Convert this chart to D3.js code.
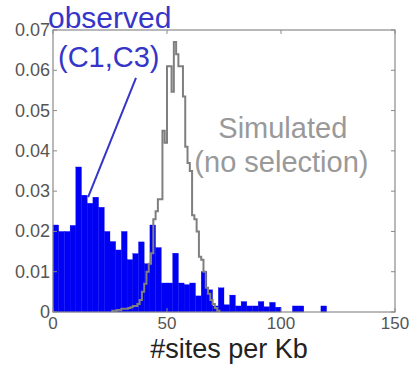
<!DOCTYPE html>
<html lang="en">
<head>
<meta charset="utf-8">
<script src="https://d3js.org/d3.v7.min.js"></script>
<style>
  body { margin: 0; background: #fff; }
  text { font-family: "Liberation Sans", Arial, sans-serif; }
</style>
</head>
<body>
<script>
// observed histogram (C1,C3), bins 2.5 sites/Kb wide starting at 0
var obsStart = 0, obsWidth = 2.5;
var observed = [0.0216, 0.020, 0.020, 0.0215, 0.036, 0.029, 0.027, 0.0285, 0.026, 0.020,
                0.0175, 0.0154, 0.020, 0.013, 0.0145, 0.0174, 0.012, 0.0216, 0.016, 0.0072,
                0.0072, 0.0146, 0.0072, 0.0068, 0.0072, 0.004, 0.010, 0.0055, 0.0015, 0.006,
                0.0018, 0.0042, 0.0015, 0.0026, 0.0015, 0.0015, 0.0026, 0.0013, 0.0024, 0.0012,
                0, 0, 0.0015, 0.0015, 0, 0, 0, 0.0015];

// simulated (no selection), bins 1 wide starting at 26
var simStart = 26, simWidth = 1;
var simulated = [0.0003, 0.0003, 0.0005, 0.0005, 0.0008, 0.0008, 0.0008, 0.001, 0.0012, 0.0015,
                 0.0015, 0.002, 0.003, 0.005, 0.007, 0.010, 0.012, 0.0146, 0.023, 0.025,
                 0.028, 0.028, 0.045, 0.042, 0.061, 0.061, 0.0547, 0.067, 0.064, 0.061,
                 0.061, 0.0535, 0.041, 0.037, 0.035, 0.024, 0.023, 0.020, 0.0137, 0.013,
                 0.010, 0.006, 0.0045, 0.003, 0.002, 0.001, 0.0003];

var xTicks = [0, 50, 100, 150];
var yTicks = [0, 0.01, 0.02, 0.03, 0.04, 0.05, 0.06, 0.07];
var yTickLabels = ["0", "0.01", "0.02", "0.03", "0.04", "0.05", "0.06", "0.07"];

var width = 412, height = 366;
var margin = {top: 30, right: 17, bottom: 54, left: 53};

var svg = d3.select("body").append("svg")
    .attr("width", width)
    .attr("height", height);

var x = d3.scaleLinear().domain([0, 150]).range([margin.left, width - margin.right]);
var y = d3.scaleLinear().domain([0, 0.07]).range([height - margin.bottom, margin.top]);

var axisColor = "#8a8a8a", labelColor = "#555";

// blue bars
svg.append("g")
  .selectAll("rect")
  .data(observed)
  .enter().append("rect")
    .attr("x", function(d, i) { return x(obsStart + i * obsWidth); })
    .attr("width", function(d, i) { return x(obsStart + (i + 1) * obsWidth) - x(obsStart + i * obsWidth); })
    .attr("y", function(d) { return y(d); })
    .attr("height", function(d) { return y(0) - y(d); })
    .attr("fill", "#0000f5")
    .attr("stroke", "#0000f5")
    .attr("stroke-width", 0.3);

// grey stairs
var pts = [[simStart, 0]];
simulated.forEach(function(v, i) { pts.push([simStart + i * simWidth, v]); });
pts.push([simStart + simulated.length * simWidth, simulated[simulated.length - 1]]);
pts.push([simStart + simulated.length * simWidth, 0]);

svg.append("path")
    .datum(pts)
    .attr("fill", "none")
    .attr("stroke", "#7f7f7f")
    .attr("stroke-width", 2)
    .attr("d", d3.line()
        .x(function(d) { return x(d[0]); })
        .y(function(d) { return y(d[1]); })
        .curve(d3.curveStepAfter));

// box + ticks
svg.append("rect")
    .attr("x", x(0)).attr("y", y(0.07))
    .attr("width", x(150) - x(0)).attr("height", y(0) - y(0.07))
    .attr("fill", "none").attr("stroke", axisColor).attr("stroke-width", 1.2);

var ticks = svg.append("g").attr("stroke", axisColor).attr("stroke-width", 1);
yTicks.forEach(function(t) {
  ticks.append("line").attr("x1", x(0)).attr("x2", x(0) + 4).attr("y1", y(t)).attr("y2", y(t));
  ticks.append("line").attr("x1", x(150)).attr("x2", x(150) - 4).attr("y1", y(t)).attr("y2", y(t));
});
xTicks.forEach(function(t) {
  ticks.append("line").attr("x1", x(t)).attr("x2", x(t)).attr("y1", y(0)).attr("y2", y(0) - 4);
  ticks.append("line").attr("x1", x(t)).attr("x2", x(t)).attr("y1", y(0.07)).attr("y2", y(0.07) + 4);
});

// tick labels
svg.append("g").selectAll("text")
  .data(yTicks)
  .enter().append("text")
    .attr("x", x(0) - 3)
    .attr("y", function(d) { return y(d) + 6; })
    .attr("text-anchor", "end")
    .attr("fill", labelColor)
    .style("font-size", "18px")
    .text(function(d, i) { return yTickLabels[i]; });

svg.append("g").selectAll("text")
  .data(xTicks)
  .enter().append("text")
    .attr("x", function(d) { return x(d); })
    .attr("y", y(0) + 17)
    .attr("text-anchor", "middle")
    .attr("fill", labelColor)
    .style("font-size", "17px")
    .text(function(d) { return d; });

svg.append("text")
    .attr("x", (x(0) + x(150)) / 2 + 5)
    .attr("y", height - 8)
    .attr("text-anchor", "middle")
    .attr("fill", "#222")
    .style("font-size", "27px")
    .text("#sites per Kb");

// annotations
var obsColor = "#3535c8";
svg.append("text")
    .attr("x", x(-2.2)).attr("y", y(0.0705))
    .attr("fill", obsColor)
    .style("font-size", "30px")
    .text("observed");
svg.append("text")
    .attr("x", x(2.2)).attr("y", y(0.0608))
    .attr("fill", obsColor)
    .style("font-size", "29px")
    .text("(C1,C3)");
svg.append("line")
    .attr("x1", x(36.4)).attr("y1", y(0.0581))
    .attr("x2", x(15.4)).attr("y2", y(0.0285))
    .attr("stroke", obsColor).attr("stroke-width", 2);

svg.append("text")
    .attr("x", x(72.5)).attr("y", y(0.0432))
    .attr("fill", "#999")
    .style("font-size", "29px")
    .text("Simulated");
svg.append("text")
    .attr("x", x(62)).attr("y", y(0.0348))
    .attr("fill", "#999")
    .style("font-size", "29px")
    .text("(no selection)");
</script>
</body>
</html>
